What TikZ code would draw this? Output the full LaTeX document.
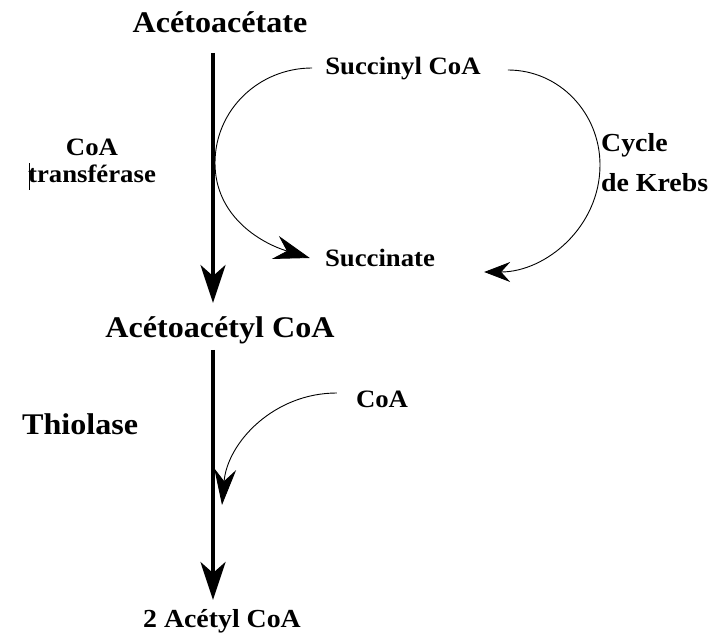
\documentclass[tikz,border=0pt]{standalone}
\usepackage{fontspec}
\setmainfont{Liberation Serif}[FakeStretch=1.07]
\usetikzlibrary{arrows.meta}

\tikzset{
    bigtext/.style={inner sep=0pt, font=\fontsize{30}{34}\selectfont\bfseries},
    smalltext/.style={inner sep=0pt, font=\fontsize{25}{27}\selectfont\bfseries},
    mainarrow/.style={line width=3.5pt, -{Stealth[length=38pt, width=25pt, inset=11pt]}},
    arcarrow/.style={line width=0.9pt, -{Stealth[length=36pt, width=24pt, inset=12pt]}},
}

\begin{document}
\begin{tikzpicture}[x=1pt, y=1pt]
        \useasboundingbox (0,0) rectangle (727,637);

        \coordinate (spine) at (213,0);

        \node[bigtext, anchor=base] (acetoacetate) at (220,604) {Acétoacétate};
        \node[bigtext, anchor=base] (acetoacetyl) at (220,299) {Acétoacétyl CoA};
        \node[smalltext, font=\fontsize{26}{28}\selectfont\bfseries, anchor=base] (acetyl) at (222,10) {2 Acétyl CoA};

        \node[smalltext, anchor=base] (succinyl) at (403,562) {Succinyl CoA};
        \node[smalltext, anchor=base] (succinate) at (380,370) {Succinate};

        \node[smalltext, align=center] (transferase) at (92,476) {CoA\\transférase};
        \node[smalltext, font=\fontsize{26}{40}\selectfont\bfseries, align=left, anchor=north west] (krebs) at (601,504) {Cycle\\de Krebs};
        \node[bigtext, anchor=base west] (thiolase) at (22,202) {Thiolase};
        \node[smalltext, anchor=base] (coa) at (382,229) {CoA};

        %\draw[red] (0,0) grid[step=50] (727,637);

        % main pathway
        \draw[mainarrow] ([yshift=-20pt]acetoacetate.base -| spine) -- ([yshift=35pt]acetoacetyl.base -| spine);
        \draw[mainarrow] ([yshift=-12pt]acetoacetyl.base -| spine) -- ([yshift=27pt]acetyl.base -| spine);

        % succinyl CoA -> succinate
        \draw[arcarrow] ([xshift=-13pt, yshift=7pt]succinyl.base west) to[out=180, in=90] (215,474)
            to[out=-90, in=163] ([xshift=-15pt, yshift=9pt]succinate.base west);
        \draw[arcarrow, -{Stealth[length=26pt, width=20pt, inset=9pt]}] ([xshift=27pt, yshift=5pt]succinyl.base east) to[out=0, in=90] (600,472)
            to[out=-90, in=0] ([xshift=49pt, yshift=-5pt]succinate.base east);

        % CoA into thiolase step
        \coordinate (join) at (222,132);
        \draw[arcarrow, -{Stealth[length=36pt, width=22pt, inset=12pt]}] ([xshift=-19pt, yshift=15pt]coa.base west) to[out=180, in=85] (join);

        \draw[line width=1pt] (29,447) -- (29,474);
\end{tikzpicture}
\end{document}
